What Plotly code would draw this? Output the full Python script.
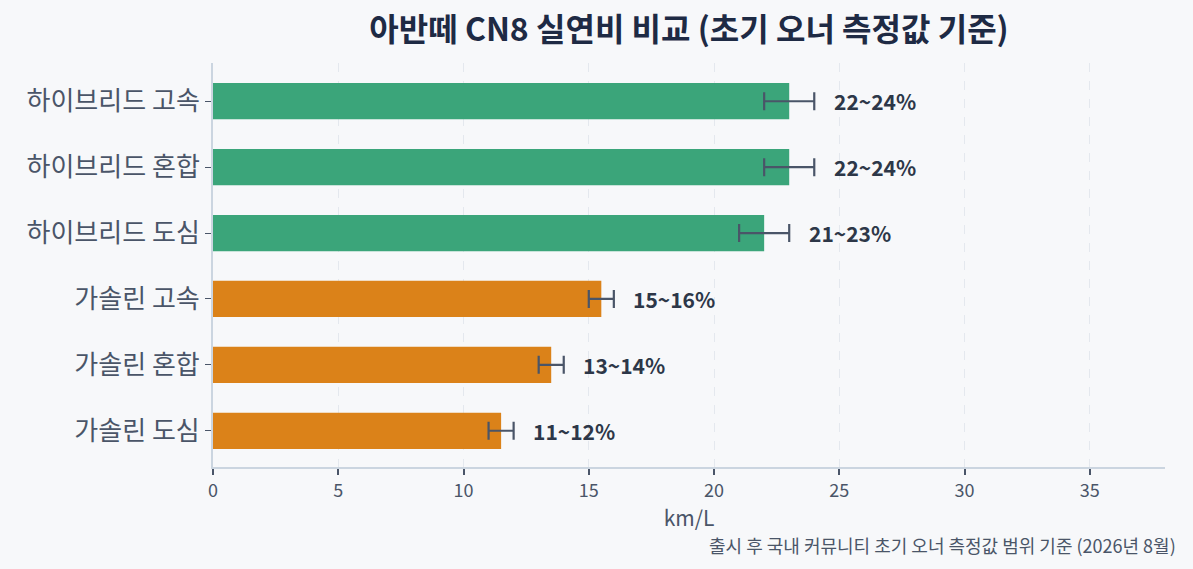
import plotly.graph_objects as go

# 아반떼 CN8 실연비 (초기 오너 측정값 범위)
categories = ["가솔린 도심", "가솔린 혼합", "가솔린 고속",
              "하이브리드 도심", "하이브리드 혼합", "하이브리드 고속"]
low = [11, 13, 15, 21, 22, 22]
high = [12, 14, 16, 23, 24, 24]
mid = [11.5, 13.5, 15.5, 22, 23, 23]
labels = ["11~12%", "13~14%", "15~16%", "21~23%", "22~24%", "22~24%"]
colors = ["#db8219"] * 3 + ["#3ba57a"] * 3

FONT = "Noto Sans CJK KR"

fig = go.Figure()

fig.add_trace(go.Bar(
    y=categories, x=mid, orientation="h",
    marker=dict(color=colors, line=dict(width=0)),
    width=0.55,
    error_x=dict(type="data", symmetric=False,
                 array=[h - m for h, m in zip(high, mid)],
                 arrayminus=[m - l for m, l in zip(mid, low)],
                 color="#4a5568", thickness=2.2, width=9),
    hoverinfo="skip",
))

for c, h, t in zip(categories, high, labels):
    fig.add_annotation(x=h + 0.7, y=c, text="<b>%s</b>" % t, showarrow=False,
                       xanchor="left", yanchor="middle",
                       font=dict(family=FONT, size=21, color="#2d3748"))

fig.add_annotation(x=1, y=0, xref="paper", yref="paper", xanchor="right", yanchor="middle",
                   xshift=13, yshift=-78,
                   text="출시 후 국내 커뮤니티 초기 오너 측정값 범위 기준 (2026년 8월)",
                   showarrow=False, font=dict(family=FONT, size=18, color="#4a5568"))

fig.update_layout(
    width=1193, height=569,
    margin=dict(l=213, r=28, t=63, b=102),
    paper_bgcolor="#f7f8fa", plot_bgcolor="#f7f8fa",
    showlegend=False,
    title=dict(text="<b>아반떼 CN8 실연비 비교 (초기 오너 측정값 기준)</b>",
               x=(213 + 1165) / 2 / 1193, xanchor="center", y=1 - 30 / 569, yanchor="middle",
               font=dict(family=FONT, size=32, color="#1e2a44")),
    xaxis=dict(range=[0, 38], dtick=5, tick0=0,
               showgrid=True, gridcolor="#e4e8ee", griddash="dash", gridwidth=1,
               zeroline=False, showline=True, linecolor="#cbd5e0", linewidth=2,
               ticks="outside", ticklen=6, tickcolor="#4a5568", tickwidth=2,
               tickfont=dict(family=FONT, size=18, color="#4a5568"),
               title=dict(text="km/L", font=dict(family=FONT, size=21, color="#4a5568"),
                          standoff=10)),
    yaxis=dict(range=[-0.55, 5.58], showgrid=False, zeroline=False,
               showline=True, linecolor="#cbd5e0", linewidth=2,
               ticks="outside", ticklen=6, tickcolor="#4a5568", tickwidth=1,
               tickfont=dict(family=FONT, size=26, color="#4a5568")),
)

fig.write_html("out.html", config={"displayModeBar": False},
               post_script="document.body.style.margin='0';")
